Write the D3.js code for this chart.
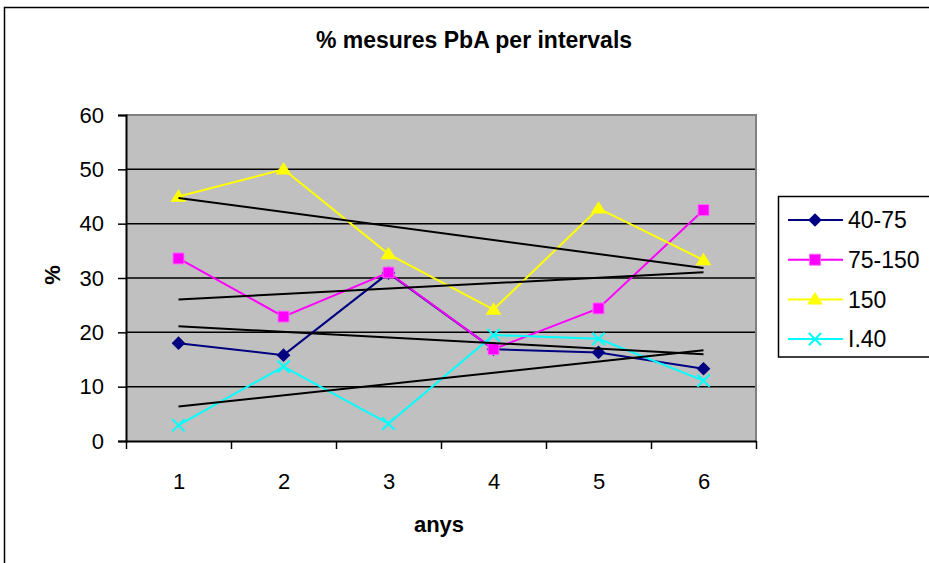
<!DOCTYPE html>
<html>
<head>
<meta charset="utf-8">
<script src="https://cdn.jsdelivr.net/npm/d3@7"></script>
<style>
  html, body { margin: 0; padding: 0; background: #fff; }
  svg { display: block; }
  text { font-family: "Liberation Sans", Arial, sans-serif; fill: #000; }
</style>
</head>
<body>
<svg id="chart" width="929" height="563"></svg>
<script>
// Years (x categories) and percentage values per interval
const years = [1, 2, 3, 4, 5, 6];
const s40_75  = [18.0, 15.8, 30.9, 16.9, 16.3, 13.3];
const s75_150 = [33.6, 22.9, 31.0, 16.9, 24.4, 42.5];
const s150    = [45.0, 50.0, 34.4, 24.2, 42.8, 33.3];
const sI40    = [2.9, 13.7, 3.2, 19.5, 18.8, 11.1];
const seriesNames = ["40-75", "75-150", "150", "I.40"];
const yTicks = [0, 10, 20, 30, 40, 50, 60];

const series = [
  { name: seriesNames[0], values: s40_75,  color: "#000080", marker: "diamond" },
  { name: seriesNames[1], values: s75_150, color: "#FF00FF", marker: "square" },
  { name: seriesNames[2], values: s150,    color: "#FFFF00", marker: "triangle" },
  { name: seriesNames[3], values: sI40,    color: "#00FFFF", marker: "cross" }
];

const svg = d3.select("#chart");
const plot = { left: 126, right: 756, top: 115, bottom: 441 };

// Outer chart frame
svg.append("rect")
  .attr("x", 4.5).attr("y", 7.5).attr("width", 940).attr("height", 580)
  .attr("fill", "none").attr("stroke", "#000").attr("stroke-width", 1.5);

// x: one band per year; a linear scale positions band edges and centres
const x = d3.scaleLinear().domain([0.5, years.length + 0.5]).range([plot.left, plot.right]);
const y = d3.scaleLinear().domain([0, 60]).range([plot.bottom, plot.top]);

// Plot area
svg.append("rect")
  .attr("x", plot.left).attr("y", plot.top)
  .attr("width", plot.right - plot.left).attr("height", plot.bottom - plot.top)
  .attr("fill", "#C0C0C0");

// Horizontal gridlines
svg.append("g").selectAll("line")
  .data(yTicks.filter(v => v > 0 && v < 60))
  .join("line")
  .attr("x1", plot.left).attr("x2", plot.right)
  .attr("y1", d => y(d)).attr("y2", d => y(d))
  .attr("stroke", "#000").attr("stroke-width", 1.5);

// Plot area border (top/right)
svg.append("path")
  .attr("d", `M${plot.left},${plot.top}H${plot.right}V${plot.bottom}`)
  .attr("fill", "none").attr("stroke", "#808080").attr("stroke-width", 2);

// Y axis
const yAxis = svg.append("g")
  .attr("transform", `translate(${plot.left},0)`)
  .call(d3.axisLeft(y).tickValues(yTicks).tickSize(8).tickPadding(14));
yAxis.select(".domain").attr("stroke", "#000").attr("stroke-width", 2);
yAxis.selectAll(".tick line").attr("stroke", "#000").attr("stroke-width", 1.5);
yAxis.selectAll(".tick text")
  .attr("font-family", "Liberation Sans, Arial, sans-serif")
  .attr("font-size", 22).attr("fill", "#000");

// X axis: tick marks on category edges
const edges = d3.range(0.5, years.length + 1, 1);
const xAxis = svg.append("g")
  .attr("transform", `translate(0,${plot.bottom})`)
  .call(d3.axisBottom(x).tickValues(edges).tickFormat("").tickSize(8).tickSizeOuter(0));
xAxis.select(".domain").attr("stroke", "#000").attr("stroke-width", 2);
xAxis.selectAll(".tick line").attr("stroke", "#000").attr("stroke-width", 1.5);

// X axis: category labels at band centres
const xLabels = svg.append("g")
  .attr("transform", `translate(0,${plot.bottom})`)
  .call(d3.axisBottom(x).tickValues(years).tickFormat(d3.format("d")).tickSize(0).tickPadding(32));
xLabels.select(".domain").remove();
xLabels.selectAll(".tick text")
  .attr("font-family", "Liberation Sans, Arial, sans-serif")
  .attr("font-size", 22).attr("fill", "#000");

// Marker shapes
const sym = {
  diamond: d3.symbol().type(d3.symbolDiamond2).size(120),
  square: d3.symbol().type(d3.symbolSquare).size(120),
  triangle: d3.symbol().type(d3.symbolTriangle).size(90),
  cross: d3.symbol().type(d3.symbolX).size(100)
};
function drawMarker(g, type, color) {
  if (type === "cross") {
    g.append("path").attr("d", sym.cross()).attr("fill", "none")
      .attr("stroke", color).attr("stroke-width", 2);
  } else if (type === "square") {
    g.append("path").attr("d", sym.square()).attr("fill", color)
      .attr("stroke", "#FF66FF").attr("stroke-width", 1);
  } else if (type === "triangle") {
    g.append("path").attr("d", sym.triangle()).attr("fill", color)
      .attr("transform", "translate(0,1) scale(1.1,1)");
  } else {
    g.append("path").attr("d", sym.diamond()).attr("fill", color);
  }
}

const line = d3.line().x((d, i) => x(years[i])).y(d => y(d));

// Series lines and markers
series.forEach(s => {
  svg.append("path")
    .attr("d", line(s.values))
    .attr("fill", "none").attr("stroke", s.color).attr("stroke-width", 2);
  s.values.forEach((v, i) => {
    const g = svg.append("g").attr("transform", `translate(${x(years[i])},${y(v)})`);
    drawMarker(g, s.marker, s.color);
  });
});

// Linear trend lines (least squares fit of each series)
series.forEach(s => {
  const mx = d3.mean(years), my = d3.mean(s.values);
  const sxy = d3.sum(years, (t, i) => (t - mx) * (s.values[i] - my));
  const sxx = d3.sum(years, t => (t - mx) * (t - mx));
  const slope = sxy / sxx, icpt = my - slope * mx;
  const x0 = years[0], x1 = years[years.length - 1];
  svg.append("line")
    .attr("x1", x(x0)).attr("y1", y(icpt + slope * x0))
    .attr("x2", x(x1)).attr("y2", y(icpt + slope * x1))
    .attr("stroke", "#000").attr("stroke-width", 2);
});

// Title and axis titles
svg.append("text")
  .attr("x", 474).attr("y", 48).attr("text-anchor", "middle")
  .attr("font-size", 23).attr("font-weight", "bold")
  .text("% mesures PbA per intervals");
svg.append("text")
  .attr("x", (plot.left + plot.right) / 2 - 2).attr("y", 532).attr("text-anchor", "middle")
  .attr("font-size", 22).attr("font-weight", "bold")
  .text("anys");
svg.append("text")
  .attr("transform", `translate(60,${(plot.top + plot.bottom) / 2 - 3}) rotate(-90)`)
  .attr("text-anchor", "middle")
  .attr("font-size", 22).attr("font-weight", "bold")
  .text("%");

// Legend
const legend = svg.append("g");
legend.append("rect")
  .attr("x", 778.5).attr("y", 196.5).attr("width", 170).attr("height", 160.5)
  .attr("fill", "#fff").attr("stroke", "#000").attr("stroke-width", 1.5);
series.forEach((s, i) => {
  const ry = 220 + i * 39.7;
  const g = legend.append("g").attr("transform", `translate(0,${ry})`);
  g.append("line").attr("x1", 788).attr("x2", 843).attr("y1", 0).attr("y2", 0)
    .attr("stroke", s.color).attr("stroke-width", 2);
  drawMarker(g.append("g").attr("transform", "translate(815,0)"), s.marker, s.color);
  g.append("text").attr("x", 848).attr("y", 0).attr("dy", "0.36em")
    .attr("font-size", 23).text(s.name);
});
</script>
</body>
</html>
